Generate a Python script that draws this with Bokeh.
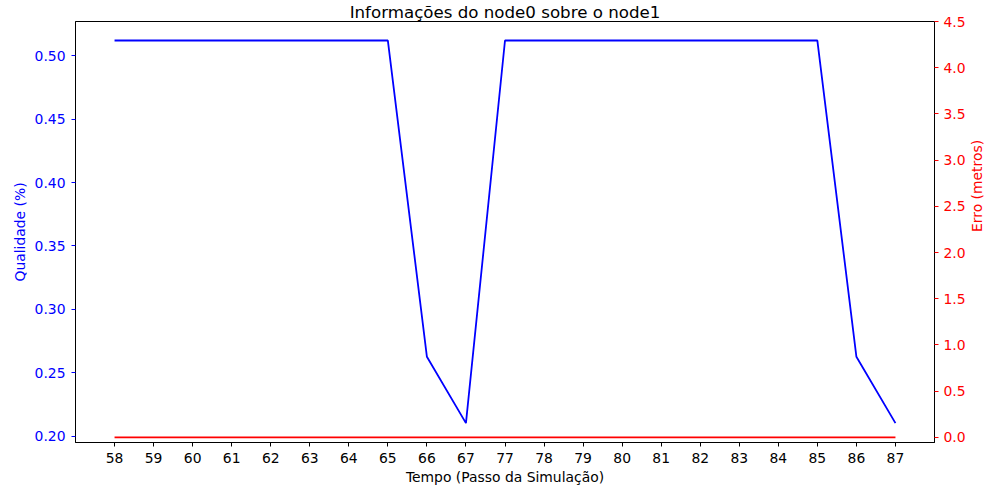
import math
from bokeh.plotting import figure
from bokeh.models import Range1d, LinearAxis, FixedTicker
from bokeh.embed import file_html
from bokeh.resources import INLINE

steps = ["58", "59", "60", "61", "62", "63", "64", "65", "66", "67",
         "77", "78", "79", "80", "81", "82", "83", "84", "85", "86", "87"]
qualidade = [0.512, 0.512, 0.512, 0.512, 0.512, 0.512, 0.512, 0.512, 0.2626, 0.2103,
             0.512, 0.512, 0.512, 0.512, 0.512, 0.512, 0.512, 0.512, 0.512, 0.2626, 0.2103]
erro = [0.0] * 21
erro_ticks = [0.0, 0.5, 1.0, 1.5, 2.0, 2.5, 3.0, 3.5, 4.0, 4.5]
qual_ticks = [0.20, 0.25, 0.30, 0.35, 0.40, 0.45, 0.50]
title_text = "Informações do node0 sobre o node1"

FONT = "DejaVu Sans"
TS = "13.9px"

idx = list(range(len(steps)))

p = figure(width=1000, height=500, output_backend="svg", toolbar_location=None,
           x_range=Range1d(-1, len(steps)), y_range=Range1d(0.195, 0.527),
           min_border_left=75, min_border_right=66, min_border_top=20, min_border_bottom=58,
           title=title_text)
p.title.align = "center"
p.title.text_font = FONT
p.title.text_font_size = "16.67px"
p.title.text_font_style = "normal"
p.title.text_color = "black"
p.title.standoff = 0
p.title.offset = 0
p.xgrid.visible = False
p.ygrid.visible = False
p.outline_line_color = "black"
p.outline_line_alpha = 1.0
p.background_fill_color = "white"
p.border_fill_color = "white"

p.extra_y_ranges = {"erro": Range1d(-0.055, 4.5)}

p.line(idx, qualidade, line_color="#0000ff", line_width=1.8)
p.line(idx, erro, line_color="#ff0000", line_width=1.8, y_range_name="erro")

# x axis
xa = p.xaxis[0]
xa.ticker = FixedTicker(ticks=idx)
xa.major_label_overrides = {i: s for i, s in enumerate(steps)}
xa.axis_label = "Tempo (Passo da Simulação)"
xa.minor_tick_line_color = None
xa.major_tick_in = 0
xa.major_tick_out = 4
xa.major_label_standoff = 6
xa.axis_label_standoff = 3
xa.axis_line_color = "black"
xa.major_tick_line_color = "black"
xa.major_label_text_color = "black"
xa.major_label_text_font = FONT
xa.major_label_text_font_size = TS
xa.axis_label_text_font = FONT
xa.axis_label_text_font_size = TS
xa.axis_label_text_font_style = "normal"
xa.axis_label_text_color = "black"

# left axis
ya = p.yaxis[0]
ya.ticker = FixedTicker(ticks=qual_ticks)
ya.major_label_overrides = {t: f"{t:.2f}" for t in qual_ticks}
ya.axis_label = "Qualidade (%)"
ya.minor_tick_line_color = None
ya.major_tick_in = 0
ya.major_tick_out = 4
ya.major_label_standoff = 6
ya.axis_label_standoff = 4
ya.axis_line_color = "black"
ya.major_tick_line_color = "#0000ff"
ya.major_label_text_color = "#0000ff"
ya.major_label_text_font = FONT
ya.major_label_text_font_size = TS
ya.axis_label_text_font = FONT
ya.axis_label_text_font_size = TS
ya.axis_label_text_font_style = "normal"
ya.axis_label_text_color = "#0000ff"

# right axis
ra = LinearAxis(y_range_name="erro", ticker=FixedTicker(ticks=erro_ticks))
ra.major_label_overrides = {t: f"{t:.1f}" for t in erro_ticks}
ra.axis_label = "Erro (metros)"
ra.minor_tick_line_color = None
ra.major_tick_in = 0
ra.major_tick_out = 4
ra.major_label_standoff = 5
ra.axis_label_standoff = 8
ra.axis_line_color = "black"
ra.major_tick_line_color = "#ff0000"
ra.major_label_text_color = "#ff0000"
ra.major_label_text_font = FONT
ra.major_label_text_font_size = TS
ra.axis_label_text_font = FONT
ra.axis_label_text_font_size = TS
ra.axis_label_text_font_style = "normal"
ra.axis_label_text_color = "#ff0000"
ra.axis_label_orientation = math.pi / 2
p.add_layout(ra, "right")

open("out.html", "w").write(file_html(p, INLINE))
